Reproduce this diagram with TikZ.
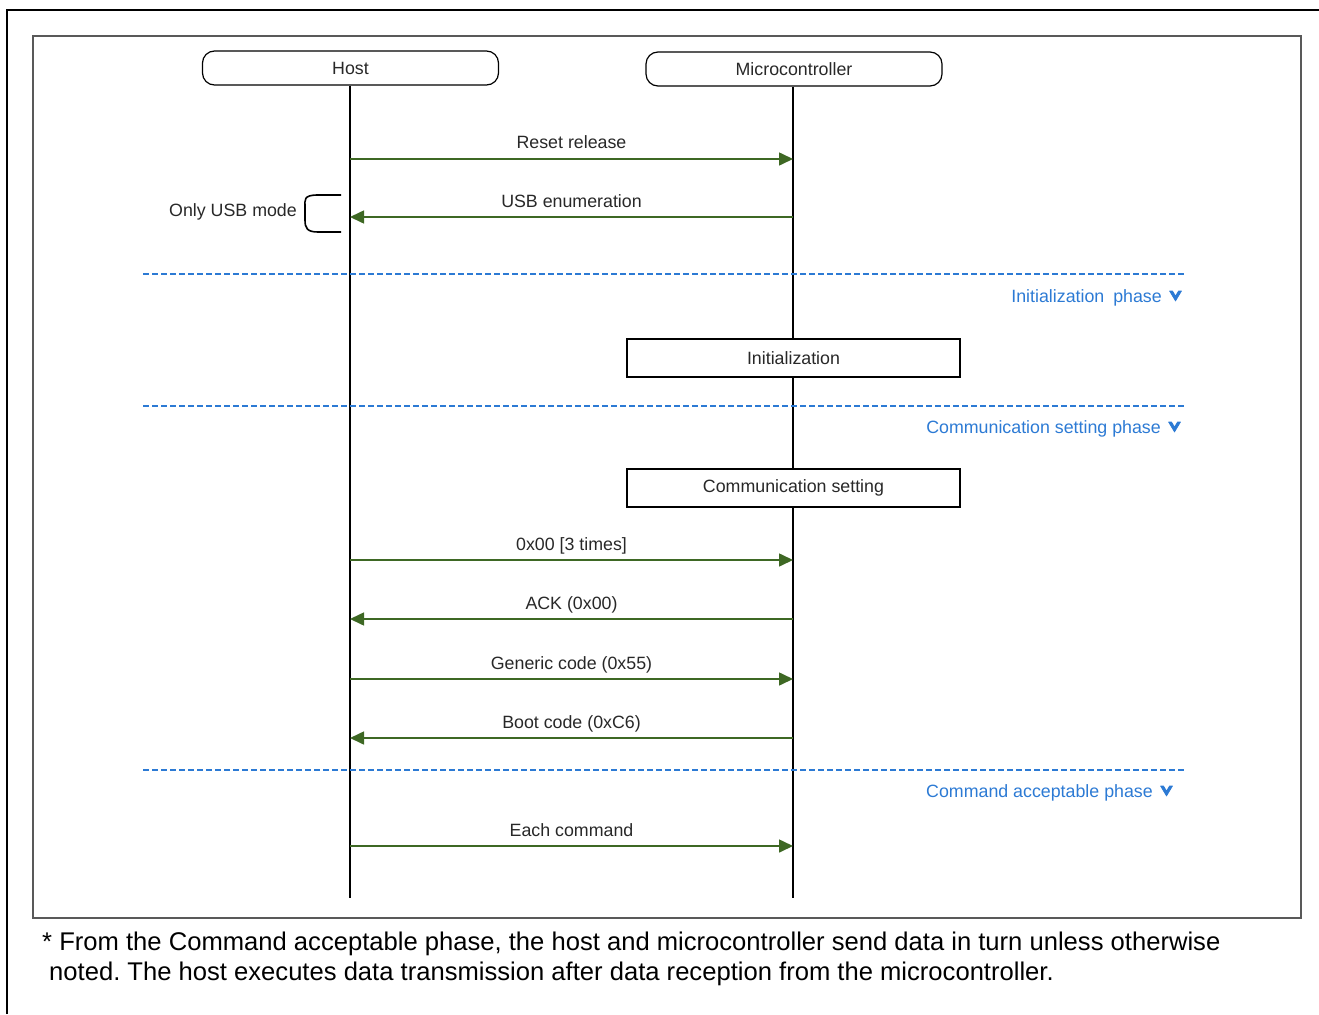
\documentclass[tikz,border=0pt]{standalone}
\usepackage{fontspec}
\setmainfont{Liberation Sans}
\usetikzlibrary{arrows.meta}
\frenchspacing
\definecolor{msggreen}{RGB}{62,104,36}
\definecolor{phaseblue}{RGB}{44,122,212}
\definecolor{labelgray}{RGB}{40,40,40}
\tikzset{
  lbl/.style={font=\fontsize{17.8}{20}\selectfont, text=labelgray, inner sep=0pt},
  pill/.style={draw, line width=1.2pt, rounded corners=12pt, minimum width=296pt,
    minimum height=34pt, lbl},
  procbox/.style={draw, line width=2pt, fill=white, minimum width=333pt,
    minimum height=38pt, lbl},
  lifeline/.style={line width=2pt, black},
  msg/.style={line width=1.6pt, msggreen, -{Triangle[length=14pt,width=13pt]}},
  phaseline/.style={line width=1.6pt, phaseblue, dash pattern=on 6pt off 3pt},
  phaselbl/.style={font=\fontsize{17.8}{20}\selectfont, text=phaseblue, inner sep=0pt, anchor=base east},
  chev/.style={fill=phaseblue, draw=phaseblue, line width=0.6pt, line join=round},
  note/.style={font=\fontsize{25.6}{30}\selectfont, inner sep=0pt, anchor=base west}
}
\begin{document}
\begin{tikzpicture}[x=1pt,y=-1pt]
\useasboundingbox (0,0) rectangle (1319,1014);
% page frame and diagram frame
\draw[line width=2.6pt] (7,1014) -- (7,10) -- (1319,10);
\draw[line width=1.6pt, black!65] (33,36) rectangle (1301,918);

% participants
\node[pill] (host) at (350.5,68) {Host};
\node[pill] (mcu) at (794,69) {Microcontroller};
\coordinate (hostend) at (350,898);
\coordinate (mcuend) at (793,898);
\draw[lifeline] (host.south -| hostend) -- (hostend);
\draw[lifeline] (mcu.south -| mcuend) -- (mcuend);

% message end points on the lifelines
\foreach \n/\y in {1/159,2/217,3/560,4/619,5/679,6/738,7/846}{
  \coordinate (h\n) at (350,\y);
  \coordinate (m\n) at (793,\y);
}

% messages
\draw[msg] (h1) -- node[lbl, anchor=base, yshift=10pt] {Reset release} (m1);
\draw[msg] (m2) -- node[lbl, anchor=base, yshift=10pt] {USB enumeration} (h2);
\draw[msg] (h3) -- node[lbl, anchor=base, yshift=10pt] {0x00 [3 times]} (m3);
\draw[msg] (m4) -- node[lbl, anchor=base, yshift=10pt] {ACK (0x00)} (h4);
\draw[msg] (h5) -- node[lbl, anchor=base, yshift=10pt] {Generic code (0x55)} (m5);
\draw[msg] (m6) -- node[lbl, anchor=base, yshift=10pt] {Boot code (0xC6)} (h6);
\draw[msg] (h7) -- node[lbl, anchor=base, yshift=10pt] {Each command} (m7);

% USB-only bracket
\coordinate (brtop) at (341,195);
\coordinate (brbot) at (341,232);
\draw[line width=1.6pt] (brtop) -- (318,195) .. controls (303,195) and (305,200) .. (305,207)
  -- (305,220) .. controls (305,228) and (307,232) .. (318,232) -- (brbot);
\node[lbl, anchor=east] (usbonly) at (297,212) {Only USB mode};

% phase separators
\foreach \n/\y in {a/274,b/406,c/770}{
  \coordinate (pl\n) at (143,\y);
  \coordinate (pr\n) at (1186,\y);
  \draw[phaseline] (pl\n) -- (pr\n);
}
\node[phaselbl] (ph1) at (1162,302) {Initialization\hspace{4pt} phase};
\node[phaselbl] (ph2) at (1161,433) {Communication setting phase};
\node[phaselbl] (ph3) at (1153,797) {Command acceptable phase};
% down markers after the phase names
\foreach \cx/\cy in {1175.5/291, 1174.5/422, 1166.5/786}{
  \fill[chev] (\cx-6,\cy) -- (\cx-3,\cy) -- (\cx,\cy+5) -- (\cx+3,\cy) -- (\cx+6,\cy)
    -- (\cx,\cy+10) -- cycle;
}

% processing steps on the microcontroller
\node[procbox] (init) at (793.5,358) {Initialization};
\node[procbox] (comset) at (793.5,488) {Communication setting};

% footnote
\node[note] (n1) at (42,950) {* From the Command acceptable phase, the host and microcontroller send data in turn unless otherwise};
\node[note] (n2) at (49,980) {noted. The host executes data transmission after data reception from the microcontroller.};
\end{tikzpicture}
\end{document}
